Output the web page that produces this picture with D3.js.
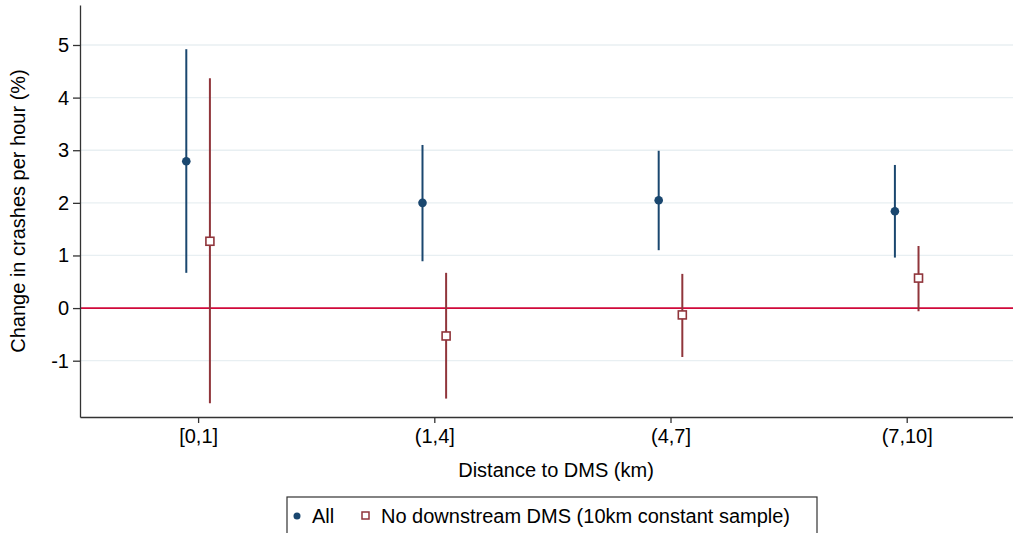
<!DOCTYPE html>
<html>
<head lang="en">
    <meta charset="UTF-8">
    <title></title>
    <style>
        body { margin: 0; background: #fff; }
        text { font-family: Arial, "Liberation Sans", sans-serif; fill: #000; }
    </style>
</head>
<body>
<svg width="1013" height="533"></svg>
<script src="https://cdn.jsdelivr.net/npm/d3@7"></script>
<script>
    // categories on the x axis
    var categories = ["[0,1]", "(1,4]", "(4,7]", "(7,10]"];
    var yTicks = [-1, 0, 1, 2, 3, 4, 5];

    // "All" estimates and 95% CI
    var allEst = [2.79, 2.00, 2.05, 1.84];
    var allLo  = [0.67, 0.89, 1.10, 0.96];
    var allHi  = [4.92, 3.10, 2.99, 2.72];

    // "No downstream DMS" estimates and CI
    var noDsEst = [1.27, -0.53, -0.13, 0.57];
    var noDsLo  = [-1.81, -1.72, -0.93, -0.06];
    var noDsHi  = [4.37, 0.67, 0.65, 1.18];

    var seriesNames = ["All", "No downstream DMS (10km constant sample)"];

    var navy = "#1a476f", maroon = "#90353b";
    var FS = "20px";

    var svg = d3.select("svg"),
            MARGINS = {top: 5, right: 0, bottom: 116, left: 80},
            WIDTH = +svg.attr("width"),
            HEIGHT = +svg.attr("height");

    var xScale = d3.scaleLinear()
            .domain([0.5, 4.45])
            .range([MARGINS.left, WIDTH - MARGINS.right]);
    var yScale = d3.scaleLinear()
            .domain([-2.07, 5.76])
            .range([HEIGHT - MARGINS.bottom, MARGINS.top]);

    // gridlines
    svg.append("g")
            .selectAll("line")
            .data(yTicks.filter(function (d) { return d !== 0; }))
            .enter().append("line")
            .attr("x1", MARGINS.left).attr("x2", WIDTH)
            .attr("y1", function (d) { return yScale(d); })
            .attr("y2", function (d) { return yScale(d); })
            .attr("stroke", "#e8eff2")
            .attr("stroke-width", 1.3);

    // zero line
    svg.append("line")
            .attr("x1", MARGINS.left).attr("x2", WIDTH)
            .attr("y1", yScale(0)).attr("y2", yScale(0))
            .attr("stroke", "#d0093a")
            .attr("stroke-width", 1.6);

    var yAxis = d3.axisLeft(yScale).tickValues(yTicks)
            .tickFormat(function (d) { return String(d); })
            .tickSize(7).tickSizeOuter(0).tickPadding(4);
    var xAxis = d3.axisBottom(xScale)
            .tickValues([1, 2, 3, 4])
            .tickFormat(function (d) { return categories[d - 1]; })
            .tickSize(6).tickSizeOuter(0).tickPadding(6);

    var gy = svg.append("g")
            .attr("transform", "translate(" + MARGINS.left + ",0)")
            .call(yAxis);
    var gx = svg.append("g")
            .attr("transform", "translate(0," + (HEIGHT - MARGINS.bottom) + ")")
            .call(xAxis);

    [gx, gy].forEach(function (g) {
        g.attr("font-size", null).attr("font-family", null);
        g.selectAll("path, line").attr("stroke", "#333").attr("stroke-width", 1.3);
        g.selectAll("text").style("font-size", FS).attr("fill", "#000");
    });

    // axis titles
    svg.append("text")
            .attr("transform", "translate(25,211) rotate(-90)")
            .attr("text-anchor", "middle")
            .style("font-size", FS)
            .text("Change in crashes per hour (%)");
    svg.append("text")
            .attr("x", 556).attr("y", 477)
            .attr("text-anchor", "middle")
            .style("font-size", FS)
            .text("Distance to DMS (km)");

    function drawSeries(est, lo, hi, offset, color, square) {
        var g = svg.append("g");
        g.selectAll("line.ci")
                .data(est)
                .enter().append("line")
                .attr("class", "ci")
                .attr("x1", function (d, i) { return xScale(i + 1 + offset); })
                .attr("x2", function (d, i) { return xScale(i + 1 + offset); })
                .attr("y1", function (d, i) { return yScale(lo[i]); })
                .attr("y2", function (d, i) { return yScale(hi[i]); })
                .attr("stroke", color)
                .attr("stroke-width", 2);
        if (square) {
            g.selectAll("rect")
                    .data(est)
                    .enter().append("rect")
                    .attr("x", function (d, i) { return xScale(i + 1 + offset) - 4; })
                    .attr("y", function (d) { return yScale(d) - 4; })
                    .attr("width", 8).attr("height", 8)
                    .attr("fill", "#fff")
                    .attr("stroke", color)
                    .attr("stroke-width", 1.6);
        } else {
            g.selectAll("circle")
                    .data(est)
                    .enter().append("circle")
                    .attr("cx", function (d, i) { return xScale(i + 1 + offset); })
                    .attr("cy", function (d) { return yScale(d); })
                    .attr("r", 4.3)
                    .attr("fill", color);
        }
    }

    drawSeries(allEst, allLo, allHi, -0.05, navy, false);
    drawSeries(noDsEst, noDsLo, noDsHi, 0.05, maroon, true);

    // legend
    var legend = svg.append("g");
    legend.append("rect")
            .attr("x", 287).attr("y", 497)
            .attr("width", 530).attr("height", 50)
            .attr("fill", "#fff")
            .attr("stroke", "#333")
            .attr("stroke-width", 1.2);
    legend.append("circle")
            .attr("cx", 297).attr("cy", 516).attr("r", 3.5)
            .attr("fill", navy);
    legend.append("text")
            .attr("x", 312).attr("y", 523)
            .style("font-size", FS)
            .text(seriesNames[0]);
    legend.append("rect")
            .attr("x", 362).attr("y", 512)
            .attr("width", 7).attr("height", 7)
            .attr("fill", "#fff")
            .attr("stroke", maroon)
            .attr("stroke-width", 1.5);
    legend.append("text")
            .attr("x", 381).attr("y", 523)
            .style("font-size", FS)
            .text(seriesNames[1]);
</script>
</body>
</html>
